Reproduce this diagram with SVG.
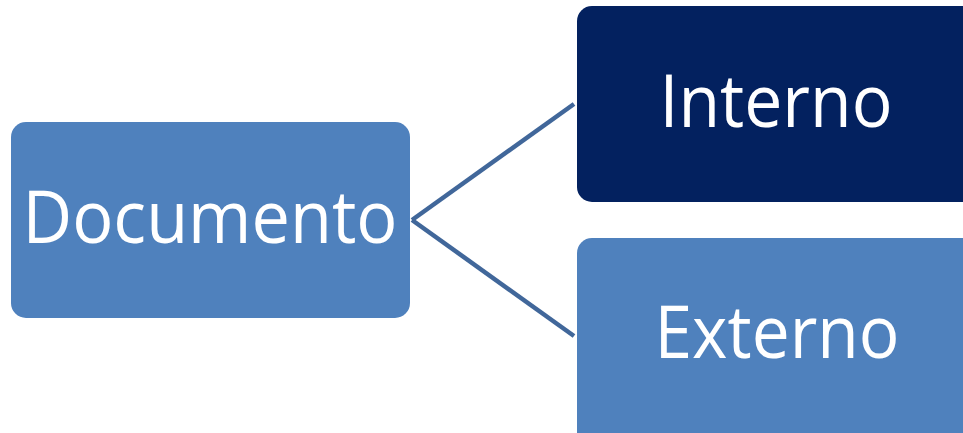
<svg xmlns="http://www.w3.org/2000/svg" width="963" height="433" viewBox="0 0 963 433">
<style>
.lbl{font-family:"Open Sans","Liberation Sans",sans-serif;fill:#ffffff;text-anchor:middle;font-size:74px}
.conn{stroke:#41679a;stroke-width:4.5;fill:none}
</style>
<rect width="963" height="433" fill="#ffffff"/>
<g id="connectors">
<line class="conn" x1="412" y1="220" x2="574" y2="104"/>
<line class="conn" x1="412" y1="220" x2="574" y2="336"/>
</g>
<g id="documento">
<rect x="11" y="122" width="399" height="196" rx="15" fill="#4f81bd"/>
<text class="lbl" x="210" y="243" textLength="375" lengthAdjust="spacingAndGlyphs">Documento</text>
</g>
<g id="interno">
<rect x="577" y="6" width="410" height="196" rx="15" fill="#03215f"/>
<text class="lbl" x="776" y="127" textLength="233" lengthAdjust="spacingAndGlyphs">Interno</text>
</g>
<g id="externo">
<rect x="577" y="238" width="410" height="220" rx="15" fill="#4f81bd"/>
<text class="lbl" x="777" y="358" textLength="245" lengthAdjust="spacingAndGlyphs">Externo</text>
</g>
</svg>
